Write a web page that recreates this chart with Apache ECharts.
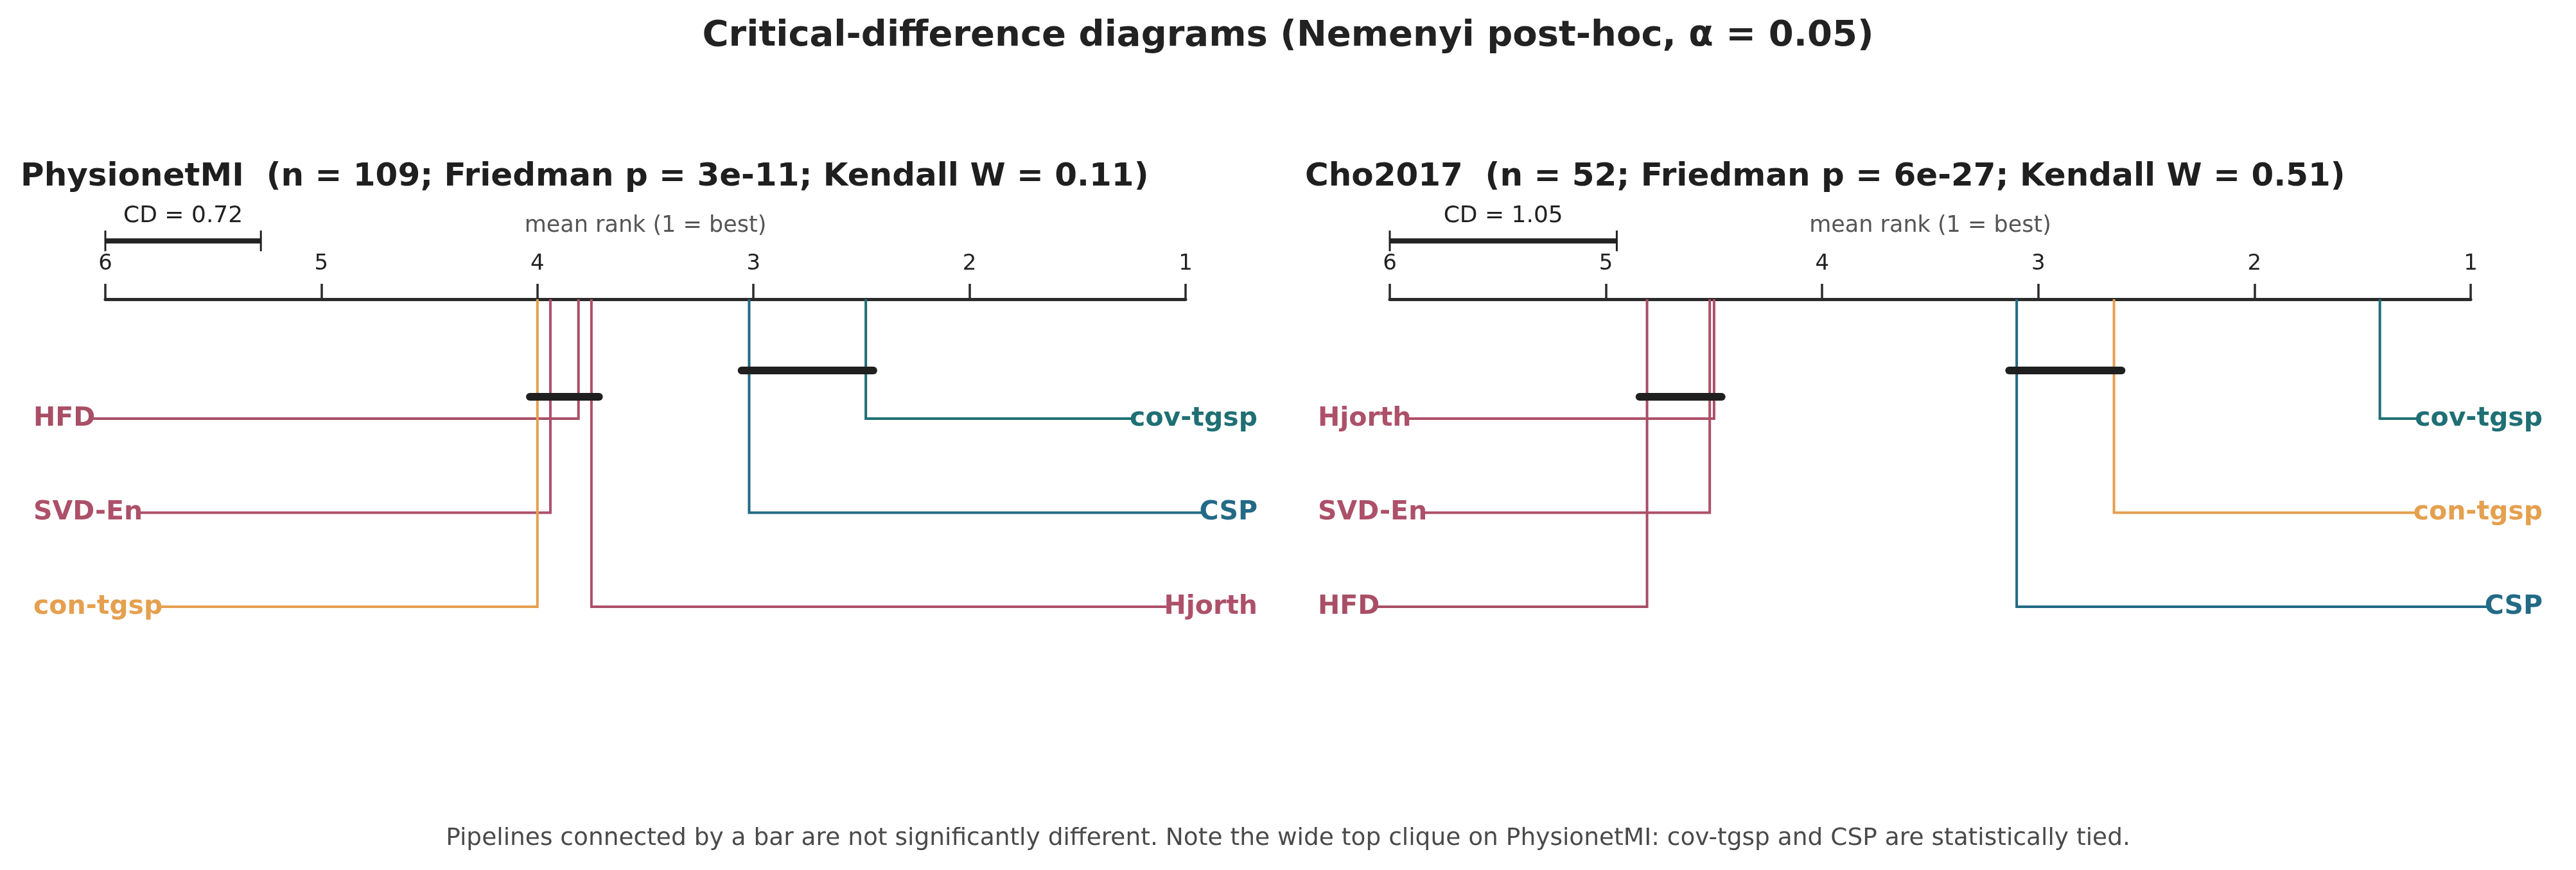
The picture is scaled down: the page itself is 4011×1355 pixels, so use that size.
<!DOCTYPE html>
<html>
<head>
<meta charset="utf-8">
<title>Critical-difference diagrams</title>
<script src="https://cdn.jsdelivr.net/npm/echarts@6/dist/echarts.min.js"></script>
<style>
  html, body { margin: 0; padding: 0; background: #ffffff; }
  #chart { width: 4011px; height: 1355px; }
</style>
</head>
<body>
<div id="chart"></div>
<script>
// ---------------- data ----------------
const PIPELINES = ["cov-tgsp", "CSP", "Hjorth", "HFD", "SVD-En", "con-tgsp"];
const PIPELINE_COLORS = ["#1f6f74", "#236a86", "#ad5069", "#a84f66", "#ad5069", "#e5a04f"];

const RANK_TICKS = [1, 2, 3, 4, 5, 6];

const PHYSIONET_RANKS = [2.48, 3.02, 3.75, 3.81, 3.94, 4.00];
const PHYSIONET_CD = 0.72;
const PHYSIONET_CLIQUES = [
  ["cov-tgsp", "CSP"],
  ["Hjorth", "HFD", "SVD-En", "con-tgsp"]
];
const PHYSIONET_TITLE = "PhysionetMI  (n = 109; Friedman p = 3e-11; Kendall W = 0.11)";

const CHO_RANKS = [1.42, 3.10, 4.50, 4.81, 4.52, 2.65];
const CHO_CD = 1.05;
const CHO_CLIQUES = [
  ["con-tgsp", "CSP"],
  ["Hjorth", "SVD-En", "HFD"]
];
const CHO_TITLE = "Cho2017  (n = 52; Friedman p = 6e-27; Kendall W = 0.51)";

const MAIN_TITLE = "Critical-difference diagrams (Nemenyi post-hoc, \u03b1 = 0.05)";
const FOOTNOTE = "Pipelines connected by a bar are not significantly different. Note the wide top clique on PhysionetMI: cov-tgsp and CSP are statistically tied.";

// ---------------- layout (y in row units below the axis) ----------------
const FONT = "DejaVu Sans";
const ROW_TOP = 1.27;       // first row below the axis
const CLIQUE_TOP = 0.758;   // first clique bar
const CLIQUE_STEP = 0.28;
const CLIQUE_EXT = 0.035;   // bar overhang in rank units
const CD_Y = -0.62;
const LABEL_PAD = 0.333;    // label anchor beyond axis ends, rank units
const LABEL_SIZE = 41;

const measureCtx = document.createElement("canvas").getContext("2d");
function textWidth(txt, size, weight) {
  measureCtx.font = (weight || "normal") + " " + size + "px \"" + FONT + "\"";
  return measureCtx.measureText(txt).width;
}

// rows: best three on the right, the rest on the left, each in rank order
function buildRows(ranks) {
  const order = PIPELINES.map((n, i) => i).sort((a, b) => ranks[a] - ranks[b]);
  const half = Math.ceil(order.length / 2);
  return order.map((idx, k) => {
    const side = k < half ? 0 : 1;
    const row = k < half ? k : k - half;
    return [ranks[idx], row, side, idx];
  });
}

function buildCliques(ranks, cliques) {
  return cliques.map((members, k) => {
    const r = members.map(m => ranks[PIPELINES.indexOf(m)]);
    return [Math.min.apply(null, r), Math.max.apply(null, r), k];
  });
}

function renderPipeline(params, api) {
  const rank = api.value(0);
  const y = ROW_TOP + api.value(1);
  const side = api.value(2);
  const idx = api.value(3);
  const name = PIPELINES[idx];
  const color = PIPELINE_COLORS[idx];

  const top = api.coord([rank, 0]);
  const corner = api.coord([rank, y]);
  const anchor = api.coord([side === 0 ? 1 - LABEL_PAD : 6 + LABEL_PAD, y]);
  const w = textWidth(name, LABEL_SIZE, "bold");
  const endX = side === 0 ? anchor[0] - w + 4 : anchor[0] + w - 4;

  return {
    type: "group",
    children: [
      {
        type: "polyline",
        shape: { points: [top, corner, [endX, corner[1]]] },
        style: { stroke: color, lineWidth: 4, fill: null, lineJoin: "miter" }
      },
      {
        type: "text",
        style: {
          text: name,
          x: anchor[0],
          y: corner[1],
          align: side === 0 ? "right" : "left",
          verticalAlign: "middle",
          font: "bold " + LABEL_SIZE + "px \"" + FONT + "\"",
          fill: color
        }
      }
    ]
  };
}

function renderClique(params, api) {
  const y = CLIQUE_TOP + CLIQUE_STEP * api.value(2);
  const a = api.coord([api.value(1) + CLIQUE_EXT, y]);
  const b = api.coord([api.value(0) - CLIQUE_EXT, y]);
  return {
    type: "line",
    z2: 10,
    shape: { x1: a[0], y1: a[1], x2: b[0], y2: b[1] },
    style: { stroke: "#1f1f1f", lineWidth: 12, lineCap: "round" }
  };
}

function renderCD(params, api) {
  const cd = api.value(0);
  const a = api.coord([6, CD_Y]);
  const b = api.coord([6 - cd, CD_Y]);
  const t0 = api.coord([6, CD_Y - 0.11]);
  const t1 = api.coord([6, CD_Y + 0.11]);
  const label = api.coord([6 - cd / 2, CD_Y - 0.14]);
  return {
    type: "group",
    children: [
      { type: "line", shape: { x1: a[0], y1: a[1], x2: b[0], y2: b[1] },
        style: { stroke: "#222222", lineWidth: 8 } },
      { type: "line", shape: { x1: a[0], y1: t0[1], x2: a[0], y2: t1[1] },
        style: { stroke: "#222222", lineWidth: 3 } },
      { type: "line", shape: { x1: b[0], y1: t0[1], x2: b[0], y2: t1[1] },
        style: { stroke: "#222222", lineWidth: 3 } },
      { type: "text",
        style: { text: "CD = " + cd.toFixed(2), x: label[0], y: label[1],
          align: "center", verticalAlign: "bottom",
          font: "36px \"" + FONT + "\"", fill: "#222222" } }
    ]
  };
}

function xAxisFor(gridIndex) {
  return {
    type: "value",
    gridIndex: gridIndex,
    position: "top",
    inverse: true,
    min: RANK_TICKS[0],
    max: RANK_TICKS[RANK_TICKS.length - 1],
    interval: 1,
    name: "mean rank (1 = best)",
    nameLocation: "middle",
    nameGap: 97,
    nameTextStyle: { fontSize: 35, color: "#555555", fontFamily: FONT },
    axisLine: { show: true, lineStyle: { color: "#2b2b2b", width: 5 } },
    axisTick: { show: true, inside: false, length: 24, lineStyle: { color: "#2b2b2b", width: 3.5 } },
    axisLabel: { fontSize: 34, color: "#222222", margin: 38, fontFamily: FONT },
    splitLine: { show: false }
  };
}

function yAxisFor(gridIndex) {
  return { type: "value", gridIndex: gridIndex, inverse: true, min: 0, max: 6, show: false };
}

function panelSeries(gridIndex, ranks, cliques, cd) {
  return [
    {
      type: "custom",
      xAxisIndex: gridIndex, yAxisIndex: gridIndex,
      renderItem: renderPipeline,
      data: buildRows(ranks),
      z: 3,
      silent: true
    },
    {
      type: "custom",
      xAxisIndex: gridIndex, yAxisIndex: gridIndex,
      renderItem: renderClique,
      data: buildCliques(ranks, cliques),
      z: 5,
      silent: true
    },
    {
      type: "custom",
      xAxisIndex: gridIndex, yAxisIndex: gridIndex,
      renderItem: renderCD,
      data: [[cd]],
      z: 4,
      silent: true
    }
  ];
}

const chart = echarts.init(document.getElementById("chart"), null, { renderer: "canvas" });

chart.setOption({
  backgroundColor: "#ffffff",
  animation: false,
  textStyle: { fontFamily: FONT },
  title: [
    {
      text: MAIN_TITLE, left: "center", top: 28, padding: 0,
      textStyle: { fontSize: 56, fontWeight: "bold", color: "#222222", fontFamily: FONT }
    },
    {
      text: PHYSIONET_TITLE, left: 32, top: 251, padding: 0,
      textStyle: { fontSize: 50, fontWeight: "bold", color: "#1f1f1f", fontFamily: FONT }
    },
    {
      text: CHO_TITLE, left: 2032, top: 251, padding: 0,
      textStyle: { fontSize: 50, fontWeight: "bold", color: "#1f1f1f", fontFamily: FONT }
    },
    {
      text: FOOTNOTE, left: "center", top: 1287, padding: 0,
      textStyle: { fontSize: 37.5, fontWeight: "normal", color: "#4a4a4a", fontFamily: FONT }
    }
  ],
  grid: [
    { left: 164, width: 1682, top: 466, height: 879 },
    { left: 2164, width: 1683, top: 466, height: 879 }
  ],
  xAxis: [xAxisFor(0), xAxisFor(1)],
  yAxis: [yAxisFor(0), yAxisFor(1)],
  series: []
    .concat(panelSeries(0, PHYSIONET_RANKS, PHYSIONET_CLIQUES, PHYSIONET_CD))
    .concat(panelSeries(1, CHO_RANKS, CHO_CLIQUES, CHO_CD))
});
</script>
</body>
</html>
